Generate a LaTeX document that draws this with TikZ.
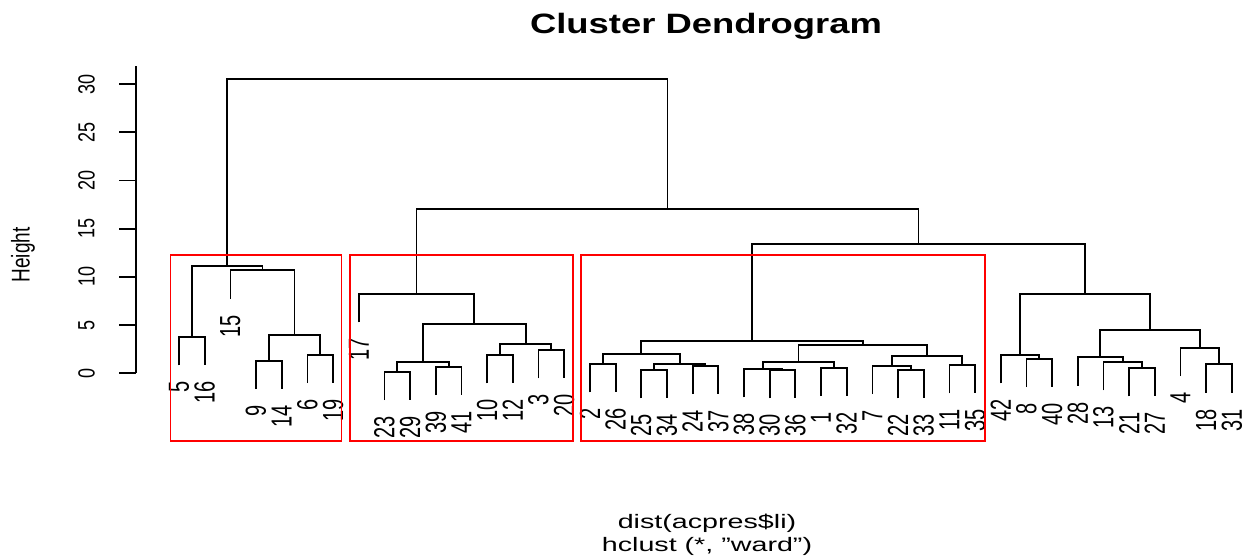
\documentclass[tikz,border=0pt]{standalone}
\usepackage{fontspec}
\setmainfont{Liberation Sans}
\usepackage{graphicx}
\newcommand{\lf}[4]{\coordinate (#1) at (#2,{#3+28.3});
  \node[leaflab] (t#1) at (#2,{#3+44.5}) {\scalebox{1}[1.45]{#4}};}
\newcommand{\mg}[5]{\coordinate (#1) at (#2,#3);
  \draw[dend] (#4) |- (#1) -| (#5);}
\begin{document}
\begin{tikzpicture}[x=1pt,y=-1pt,
  dend/.style={line width=1.8pt, line join=miter},
  clus/.style={draw=red, line width=1.6pt},
  axisline/.style={line width=1.8pt},
  leaflab/.style={font=\fontsize{20}{20}\selectfont, rotate=90, anchor=east, inner sep=0pt},
  ticklab/.style={font=\fontsize{18}{18}\selectfont, rotate=90, anchor=center, inner sep=0pt},
  titlelab/.style={font=\fontsize{28}{28}\selectfont\bfseries, anchor=base, inner sep=0pt},
  sublab/.style={font=\fontsize{19.5}{19.5}\selectfont, anchor=base, inner sep=0pt}]
\useasboundingbox (0,0) rectangle (1253,557);
% leaves
\lf{L1}{179}{337}{5}
\lf{L2}{204.7}{337}{16}
\lf{L3}{230.4}{270.3}{15}
\lf{L4}{256}{360.7}{9}
\lf{L5}{281.7}{360.7}{14}
\lf{L6}{307.4}{354.7}{6}
\lf{L7}{333.1}{354.7}{19}
\lf{L8}{358.8}{294}{17}
\lf{L9}{384.4}{371.7}{23}
\lf{L10}{410.1}{371.7}{29}
\lf{L11}{435.8}{366.7}{39}
\lf{L12}{461.5}{366.7}{41}
\lf{L13}{487.2}{355}{10}
\lf{L14}{512.8}{355}{12}
\lf{L15}{538.5}{350}{3}
\lf{L16}{564.2}{350}{20}
\lf{L17}{589.9}{364}{2}
\lf{L18}{615.6}{364}{26}
\lf{L19}{641.2}{370}{25}
\lf{L20}{666.9}{370}{34}
\lf{L21}{692.6}{365.7}{24}
\lf{L22}{718.3}{365.7}{37}
\lf{L23}{744}{369}{38}
\lf{L24}{769.6}{370}{30}
\lf{L25}{795.3}{370}{36}
\lf{L26}{821}{367.7}{1}
\lf{L27}{846.7}{367.7}{32}
\lf{L28}{872.4}{365.7}{7}
\lf{L29}{898}{370}{22}
\lf{L30}{923.7}{370}{33}
\lf{L31}{949.4}{365}{11}
\lf{L32}{975.1}{365}{35}
\lf{L33}{1000.8}{355}{42}
\lf{L34}{1026.4}{358.7}{8}
\lf{L35}{1052.1}{358.7}{40}
\lf{L36}{1077.8}{357.3}{28}
\lf{L37}{1103.5}{362}{13}
\lf{L38}{1129.2}{368}{21}
\lf{L39}{1154.8}{368}{27}
\lf{L40}{1180.5}{347.7}{4}
\lf{L41}{1206.2}{364.3}{18}
\lf{L42}{1231.9}{364.3}{31}
% merges
\mg{A1}{191.85}{337}{L1}{L2}
\mg{A2}{268.85}{360.7}{L4}{L5}
\mg{A3}{320.25}{354.7}{L6}{L7}
\mg{A4}{294.55}{334.7}{A2}{A3}
\mg{A5}{262.5}{270.3}{L3}{A4}
\mg{A6}{227.2}{265.7}{A1}{A5}
\mg{B1}{397.25}{371.7}{L9}{L10}
\mg{B2}{448.65}{366.7}{L11}{L12}
\mg{B3}{422.95}{361.7}{B1}{B2}
\mg{B4}{500}{355}{L13}{L14}
\mg{B5}{551.35}{350}{L15}{L16}
\mg{B6}{525.7}{344.3}{B4}{B5}
\mg{B7}{474.3}{324}{B3}{B6}
\mg{B8}{416.55}{294}{L8}{B7}
\mg{C1}{602.75}{364}{L17}{L18}
\mg{C2}{654.05}{370}{L19}{L20}
\mg{C3}{705.45}{365.7}{L21}{L22}
\mg{C4}{679.75}{364}{C2}{C3}
\mg{C5}{641.25}{354.3}{C1}{C4}
\mg{C6}{782.45}{370}{L24}{L25}
\mg{C7}{763.2}{369}{L23}{C6}
\mg{C8}{833.85}{367.7}{L26}{L27}
\mg{C9}{798.5}{361.7}{C7}{C8}
\mg{C10}{910.85}{370}{L29}{L30}
\mg{C11}{891.6}{365.7}{L28}{C10}
\mg{C12}{962.25}{365}{L31}{L32}
\mg{C13}{926.9}{355.7}{C11}{C12}
\mg{C14}{862.7}{345}{C9}{C13}
\mg{C15}{751.98}{340.7}{C5}{C14}
\mg{D1}{1039.25}{358.7}{L34}{L35}
\mg{D2}{1020}{355}{L33}{D1}
\mg{D3}{1142}{368}{L38}{L39}
\mg{D4}{1122.75}{362}{L37}{D3}
\mg{D5}{1100.3}{357.3}{L36}{D4}
\mg{D6}{1219.05}{364.3}{L41}{L42}
\mg{D7}{1199.8}{347.7}{L40}{D6}
\mg{D8}{1150.05}{330}{D5}{D7}
\mg{D9}{1085}{294.3}{D2}{D8}
\mg{E1}{918.5}{244}{C15}{D9}
\mg{E2}{667.5}{209}{B8}{E1}
\mg{R}{447.35}{79}{A6}{E2}
% cluster rectangles
\draw[clus] (170.3,255) rectangle (341.6,441);
\draw[clus] (350.1,255) rectangle (572.7,441);
\draw[clus] (581.2,255) rectangle (985,441);
% axis
\draw[axisline] (136,66) -- (136,373.3);
\foreach \v [count=\i from 0] in {0,5,10,15,20,25,30} {
  \draw[axisline] (119,{373.3-48.2*\i}) -- (136,{373.3-48.2*\i});
  \node[ticklab] (tick\i) at (86.5,{373.3-48.2*\i}) {\scalebox{1}[1.3]{\v}};
}
\node[ticklab, font=\fontsize{19}{19}\selectfont] (ylab) at (23,255) {\scalebox{1}[1.35]{Height}};
% titles
\node[titlelab] (title) at (706,33) {\scalebox{1.3}[1]{Cluster Dendrogram}};
\node[sublab] (xlab) at (707,528) {\scalebox{1.47}[1]{dist(acpres\$li)}};
\node[sublab] (sub) at (707,551) {\scalebox{1.47}[1]{hclust (*, \symbol{34}ward\symbol{34})}};
\end{tikzpicture}
\end{document}
